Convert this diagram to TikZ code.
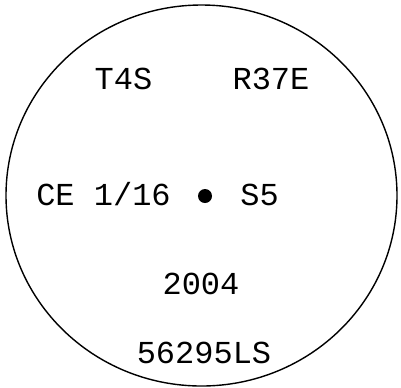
\documentclass[tikz,border=0pt]{standalone}
\usepackage{fontspec}
\setmonofont{Liberation Mono}
\begin{document}
\begin{tikzpicture}[x=0.5pt,y=-0.5pt,
  lbl/.style={font=\ttfamily\fontsize{16}{16}\selectfont, inner sep=0pt, anchor=center}]
\useasboundingbox (0,0) rectangle (401,387);
\draw[line width=0.7pt] (201.5,195.5) ellipse [x radius=195.5, y radius=190.5];
\node[lbl] (t4s) at (123.5,79) {\vphantom{0}T4S};
\node[lbl] (r37e) at (271,79) {\vphantom{0}R37E};
\node[lbl] (ce) at (103.5,194.5) {\vphantom{0}CE 1/16};
\fill (205,196) circle [radius=7] coordinate (dot);
\node[lbl] (s5) at (259.5,194.5) {\vphantom{0}S5};
\node[lbl] (yr) at (201,284) {\vphantom{0}2004};
\node[lbl] (num) at (204,353) {\vphantom{0}56295LS};
\end{tikzpicture}
\end{document}
